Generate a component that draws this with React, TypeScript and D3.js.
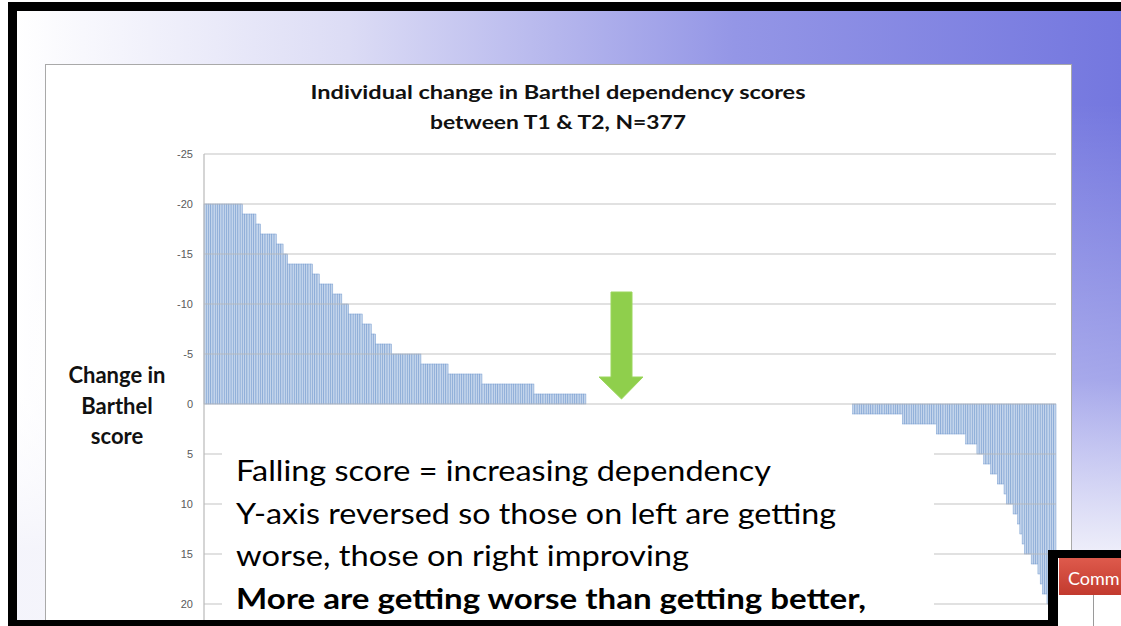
import React from 'react';
import * as d3 from 'd3';

// change in Barthel score, one level per step of the sorted bars
const scoreChanges = [
  -20, -19, -18, -17, -16, -15, -14, -13, -12, -11, -10, -9, -8, -7, -6, -5, -4, -3, -2, -1,
  0,
  1, 2, 3, 4, 5, 6, 7, 8, 9, 10, 11, 12, 13, 14, 15, 16, 17, 18, 19, 20, 21, 22, 24,
];
// number of individuals at each level (N = 377)
const peopleCounts = [
  17, 6, 2, 7, 3, 2, 11, 3, 6, 4, 3, 6, 4, 2, 7, 13, 12, 15, 23, 23,
  118,
  22, 15, 13, 5, 3, 3, 3, 3, 1, 3, 2, 1, 1, 1, 3, 3, 1, 1, 2, 1, 1, 1, 1,
];
const yTicks = [-25, -20, -15, -10, -5, 0, 5, 10, 15, 20];
const titleLines = ['Individual change in Barthel dependency scores', 'between T1 & T2, N=377'];
const axisTitleLines = ['Change in', 'Barthel', 'score'];
const noteLines = [
  'Falling score = increasing dependency',
  'Y-axis reversed so those on left are getting',
  'worse, those on right improving',
  'More are getting worse than getting better,',
];

export default function App() {
  const width = 1121;
  const height = 626;
  const plot = { left: 204, right: 1056, top: 154, bottom: 654 };

  const individuals = scoreChanges.flatMap((v, i) => Array(peopleCounts[i]).fill(v));

  const xScale = d3.scaleBand()
    .domain(individuals.map((d, i) => String(i)))
    .range([plot.left, plot.right])
    .padding(0);

  const yScale = d3.scaleLinear()
    .domain([-25, 25])
    .range([plot.top, plot.bottom]);

  const yAxis = d3.axisLeft(yScale)
    .tickValues(yTicks)
    .tickFormat(d => String(d))
    .tickSize(0)
    .tickPadding(10);

  const bars = individuals.map((v, i) => {
    if (v === 0) return null;
    const y0 = yScale(0);
    const y1 = yScale(v);
    return (
      <rect
        key={i}
        x={xScale(String(i))}
        y={Math.min(y0, y1)}
        width={xScale.bandwidth()}
        height={Math.abs(y1 - y0)}
        fill="#c3d4eb"
        stroke="#6d96cc"
        strokeWidth="0.45"
      />
    );
  });

  return (
    <svg width={width} height={height} style={{ position: 'absolute', left: 0, top: 0 }}>
      <defs>
        <linearGradient id="slideBg" x1="0" y1="0" x2="1" y2="0">
          <stop offset="0" stopColor="#ffffff" />
          <stop offset="0.3" stopColor="#dcdcf5" />
          <stop offset="0.65" stopColor="#9496e6" />
          <stop offset="1" stopColor="#7477df" />
        </linearGradient>
        <linearGradient id="slideFade" x1="0" y1="0" x2="0" y2="1">
          <stop offset="0.15" stopColor="#ffffff" stopOpacity="0" />
          <stop offset="0.6" stopColor="#ffffff" stopOpacity="0.35" />
          <stop offset="0.88" stopColor="#f4f4fb" stopOpacity="0.95" />
        </linearGradient>
        <linearGradient id="btnRed" x1="0" y1="0" x2="0" y2="1">
          <stop offset="0" stopColor="#de5a4c" />
          <stop offset="1" stopColor="#c23a2e" />
        </linearGradient>
      </defs>

      {/* slide background */}
      <rect x="0" y="0" width={width} height={height} fill="#ffffff" />
      <rect x="17" y="11" width={width - 17} height={height - 11} fill="url(#slideBg)" />
      <rect x="17" y="11" width={width - 17} height={height - 11} fill="url(#slideFade)" />

      {/* chart frame */}
      <rect x="45.5" y="64.5" width="1026" height="580" fill="#ffffff" stroke="#a9a9a9" strokeWidth="1" />

      {titleLines.map((t, i) => (
        <text
          key={t}
          x="558"
          y={99 + i * 30}
          textAnchor="middle"
          fontFamily="Lato, 'Open Sans', sans-serif"
          fontWeight="bold"
          fontSize="19"
          fill="#111"
          textLength={i === 0 ? 495 : 256}
          lengthAdjust="spacingAndGlyphs"
        >
          {t}
        </text>
      ))}

      {axisTitleLines.map((t, i) => (
        <text
          key={t}
          x="117"
          y={383 + i * 30.5}
          textAnchor="middle"
          fontFamily="Lato, 'Open Sans', sans-serif"
          fontWeight="bold"
          fontSize="22"
          fill="#111"
        >
          {t}
        </text>
      ))}

      {bars}

      {/* gridlines */}
      {yTicks.map(t => (
        <line
          key={t}
          x1={plot.left}
          x2={plot.right}
          y1={yScale(t)}
          y2={yScale(t)}
          stroke="#b9b9b9"
          strokeWidth="1.2"
          opacity="0.85"
        />
      ))}
      <line x1={plot.left} x2={plot.left} y1={plot.top} y2={plot.bottom} stroke="#b9b9b9" strokeWidth="1.2" />

      <g
        ref={node => {
          if (!node) return;
          const g = d3.select(node);
          g.call(yAxis);
          g.select('.domain').remove();
          g.selectAll('text')
            .attr('font-family', "'Liberation Sans', Arial, sans-serif")
            .attr('font-size', 11)
            .attr('fill', '#5a5a5a');
        }}
        transform={`translate(${plot.left - 1}, 0)`}
      />

      {/* green arrow */}
      <path
        d="M611,292 L632,292 L632,377 L643,377 L621.5,399 L599,377 L611,377 Z"
        fill="#8fcf4c"
        stroke="#9bd65c"
        strokeWidth="1"
      />

      {/* text box */}
      <rect x="222" y="438" width="712" height="190" fill="#ffffff" />
      {noteLines.map((t, i) => (
        <text
          key={t}
          x="236"
          y={481 + i * 42.5}
          fontFamily="Lato, 'Open Sans', sans-serif"
          fontWeight={i === 3 ? 'bold' : 'normal'}
          fontSize="28"
          fill="#000"
          textLength={[535, 600, 453, 630][i]}
          lengthAdjust="spacingAndGlyphs"
        >
          {t}
        </text>
      ))}

      {/* screen frame */}
      <rect x="8" y="2" width={width - 8} height="9" fill="#000" />
      <rect x="8" y="2" width="9" height={height - 2} fill="#000" />
      <rect x="8" y="620" width="1050" height="6" fill="#000" />
      <rect x="1048" y="550" width={width - 1048} height={height - 550} fill="#000" />
      <rect x="1058" y="558" width={width - 1058} height={height - 558} fill="#ffffff" />
      <rect x="1059" y="558" width={width - 1059} height="37" fill="url(#btnRed)" />
      <text x="1068" y="585" fontFamily="Lato, 'Open Sans', sans-serif" fontSize="18" fill="#ffffff">Comm</text>
      <line x1="1093.5" x2="1093.5" y1="595" y2={height} stroke="#9a9a9a" strokeWidth="1" />
    </svg>
  );
}
